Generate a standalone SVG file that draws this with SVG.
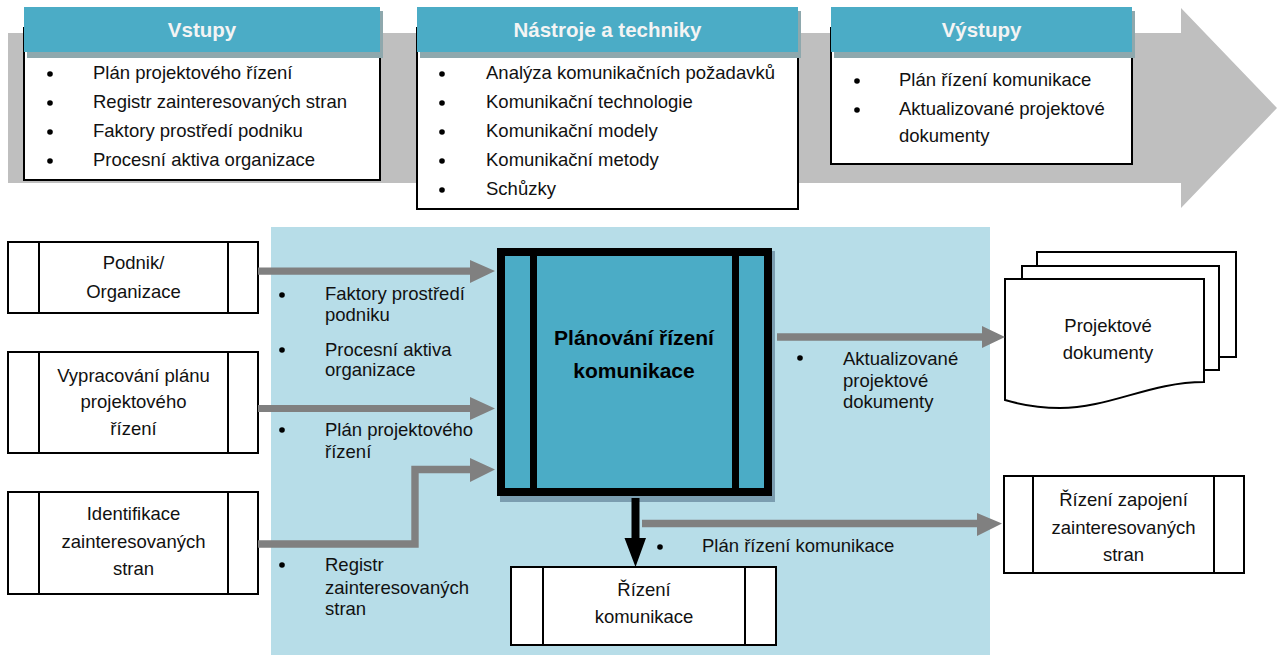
<svg xmlns="http://www.w3.org/2000/svg" width="1277" height="655" viewBox="0 0 1277 655">
  <style>
    text { font-family: "Liberation Sans", Arial, sans-serif; fill: #111; }
    .t { font-size: 18.5px; }
    .c { text-anchor: middle; }
    .hdr { font-size: 20.5px; font-weight: bold; fill: #f4f4f4; text-anchor: middle; }
    .main { font-size: 21px; font-weight: bold; fill: #000; text-anchor: middle; }
    .hbar { fill: #4bacc6; }
    .hshadow { fill: #8ea8ad; }
    .card { fill: #fff; stroke: #000; stroke-width: 2; }
    .box { fill: #fff; stroke: #000; stroke-width: 2; }
    .div { stroke: #000; stroke-width: 2; }
    .dot { fill: #000; }
    .flow { fill: #808080; }
  </style>

  <!-- process band -->
  <polygon points="8,33 1181,33 1181,8 1277,108 1181,208 1181,183 8,183" fill="#bfbfbf"/>

  <!-- inputs card -->
  <g id="vstupy">
    <rect class="card" x="24" y="28" width="356" height="152"/>
    <rect class="hshadow" x="27" y="11" width="356" height="47"/>
    <rect class="hbar" x="24" y="7" width="356" height="45"/>
    <text class="hdr" x="202" y="37">Vstupy</text>
    <circle class="dot" cx="50" cy="74" r="2.8"/>
    <circle class="dot" cx="50" cy="103" r="2.8"/>
    <circle class="dot" cx="50" cy="132" r="2.8"/>
    <circle class="dot" cx="50" cy="161" r="2.8"/>
    <text class="t" x="93" y="79">Plán projektového řízení</text>
    <text class="t" x="93" y="108">Registr zainteresovaných stran</text>
    <text class="t" x="93" y="137">Faktory prostředí podniku</text>
    <text class="t" x="93" y="166">Procesní aktiva organizace</text>
  </g>

  <!-- tools card -->
  <g id="nastroje">
    <rect class="card" x="417" y="28" width="381" height="181"/>
    <rect class="hshadow" x="420" y="11" width="381" height="47"/>
    <rect class="hbar" x="417" y="7" width="381" height="45"/>
    <text class="hdr" x="607.5" y="37">Nástroje a techniky</text>
    <circle class="dot" cx="442" cy="74" r="2.8"/>
    <circle class="dot" cx="442" cy="103" r="2.8"/>
    <circle class="dot" cx="442" cy="132" r="2.8"/>
    <circle class="dot" cx="442" cy="161" r="2.8"/>
    <circle class="dot" cx="442" cy="190" r="2.8"/>
    <text class="t" x="486" y="79">Analýza komunikačních požadavků</text>
    <text class="t" x="486" y="108">Komunikační technologie</text>
    <text class="t" x="486" y="137">Komunikační modely</text>
    <text class="t" x="486" y="166">Komunikační metody</text>
    <text class="t" x="486" y="195">Schůzky</text>
  </g>

  <!-- outputs card -->
  <g id="vystupy">
    <rect class="card" x="831" y="28" width="301" height="136"/>
    <rect class="hshadow" x="834" y="11" width="301" height="47"/>
    <rect class="hbar" x="831" y="7" width="301" height="45"/>
    <text class="hdr" x="981.5" y="37">Výstupy</text>
    <circle class="dot" cx="857" cy="81" r="2.8"/>
    <circle class="dot" cx="857" cy="110" r="2.8"/>
    <text class="t" x="899" y="86">Plán řízení komunikace</text>
    <text class="t" x="899" y="115">Aktualizované projektové</text>
    <text class="t" x="899" y="142">dokumenty</text>
  </g>

  <!-- process scope panel -->
  <rect id="panel" x="271" y="227" width="719" height="428" fill="#b7dde8"/>

  <!-- predecessor processes -->
  <g id="podnik">
    <rect class="box" x="8" y="242" width="250" height="71"/>
    <line class="div" x1="39" y1="242" x2="39" y2="313"/>
    <line class="div" x1="228" y1="242" x2="228" y2="313"/>
    <text class="t c" x="133.5" y="268.5">Podnik/</text>
    <text class="t c" x="133.5" y="297.5">Organizace</text>
  </g>

  <g id="vypracovani">
    <rect class="box" x="8" y="352" width="250" height="101"/>
    <line class="div" x1="39" y1="352" x2="39" y2="453"/>
    <line class="div" x1="228" y1="352" x2="228" y2="453"/>
    <text class="t c" x="133.5" y="382">Vypracování plánu</text>
    <text class="t c" x="133.5" y="408">projektového</text>
    <text class="t c" x="133.5" y="435">řízení</text>
  </g>

  <g id="identifikace">
    <rect class="box" x="8" y="492" width="250" height="102"/>
    <line class="div" x1="39" y1="492" x2="39" y2="594"/>
    <line class="div" x1="228" y1="492" x2="228" y2="594"/>
    <text class="t c" x="133.5" y="520">Identifikace</text>
    <text class="t c" x="133.5" y="548">zainteresovaných</text>
    <text class="t c" x="133.5" y="575">stran</text>
  </g>

  <!-- central process -->
  <g id="planovani">
    <rect x="500" y="251" width="275" height="251" fill="#7b9db0"/>
    <rect x="497" y="248" width="275" height="248" fill="#000"/>
    <rect x="505" y="256" width="259" height="232" fill="#4bacc6"/>
    <rect x="530" y="256" width="7" height="232" fill="#000"/>
    <rect x="732" y="256" width="7" height="232" fill="#000"/>
    <text class="main" x="634" y="345">Plánování řízení</text>
    <text class="main" x="634" y="378">komunikace</text>
  </g>

  <!-- document stack -->
  <g id="dokumenty">
    <rect class="box" x="1037" y="252" width="199" height="105"/>
    <rect class="box" x="1022" y="266" width="197" height="104"/>
    <path class="box" d="M1005,279 H1204 V382 C1150,382 1110,408 1060,408 C1040,408 1022,405 1005,400 Z"/>
    <text class="t c" x="1108" y="332">Projektové</text>
    <text class="t c" x="1108" y="359">dokumenty</text>
  </g>

  <!-- successor processes -->
  <g id="rizeni-komunikace">
    <rect class="box" x="511" y="567" width="265" height="78"/>
    <line class="div" x1="543" y1="567" x2="543" y2="645"/>
    <line class="div" x1="745" y1="567" x2="745" y2="645"/>
    <text class="t c" x="644" y="596">Řízení</text>
    <text class="t c" x="644" y="623">komunikace</text>
  </g>

  <g id="rizeni-zapojeni">
    <rect class="box" x="1004" y="476" width="240" height="97"/>
    <line class="div" x1="1033" y1="476" x2="1033" y2="573"/>
    <line class="div" x1="1214" y1="476" x2="1214" y2="573"/>
    <text class="t c" x="1123.5" y="506">Řízení zapojení</text>
    <text class="t c" x="1123.5" y="534">zainteresovaných</text>
    <text class="t c" x="1123.5" y="561">stran</text>
  </g>

  <!-- connectors -->
  <g id="connectors">
    <polygon class="flow" points="258,267.5 470,267.5 470,260 495,271 470,283 470,274.8 258,274.8"/>
    <polygon class="flow" points="258,405 470,405 470,397 495,408.5 470,420 470,412 258,412"/>
    <polygon class="flow" points="258,540.3 411.3,540.3 411.3,465.8 470,465.8 470,458 495,469.5 470,482 470,473.2 418.7,473.2 418.7,547.7 258,547.7"/>
    <polygon class="flow" points="777,333.3 982,333.3 982,326 1005,337 982,348 982,340.7 777,340.7"/>
    <polygon class="flow" points="642,519.8 977,519.8 977,513 1002,523.5 977,536 977,527.2 642,527.2"/>
    <polygon fill="#000" points="631.5,498 639.5,498 639.5,538 646,538 635.5,567 624.5,538 631.5,538"/>
  </g>

  <!-- flow labels -->
  <g id="labels">
    <circle class="dot" cx="282" cy="295" r="2.8"/>
    <text class="t" x="325" y="300">Faktory prostředí</text>
    <text class="t" x="325" y="321">podniku</text>
    <circle class="dot" cx="282" cy="350" r="2.8"/>
    <text class="t" x="325" y="356">Procesní aktiva</text>
    <text class="t" x="325" y="376">organizace</text>
    <circle class="dot" cx="282" cy="430" r="2.8"/>
    <text class="t" x="325" y="436">Plán projektového</text>
    <text class="t" x="325" y="458">řízení</text>
    <circle class="dot" cx="282" cy="565" r="2.8"/>
    <text class="t" x="325" y="571">Registr</text>
    <text class="t" x="325" y="594">zainteresovaných</text>
    <text class="t" x="325" y="615">stran</text>
    <circle class="dot" cx="800" cy="358" r="2.8"/>
    <text class="t" x="843" y="365">Aktualizované</text>
    <text class="t" x="843" y="387">projektové</text>
    <text class="t" x="843" y="408">dokumenty</text>
    <circle class="dot" cx="660" cy="547" r="2.8"/>
    <text class="t" x="702" y="552">Plán řízení komunikace</text>
  </g>
</svg>
